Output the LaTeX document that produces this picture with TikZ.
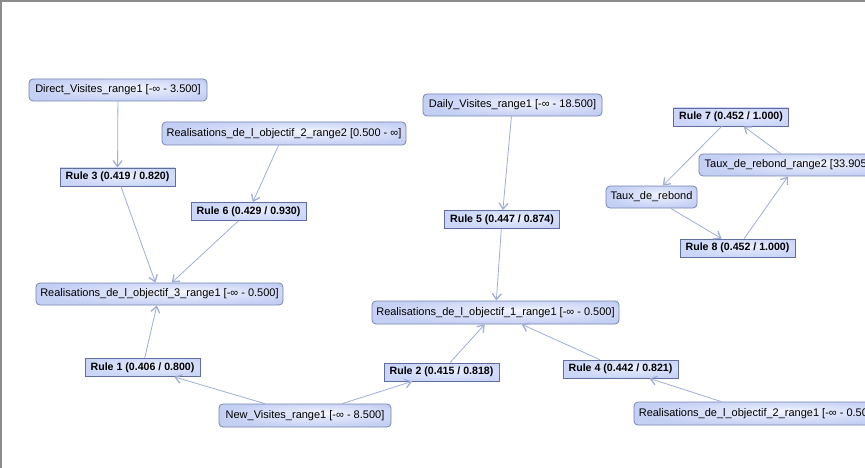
\documentclass[tikz,border=0pt]{standalone}
\usepackage{fontspec}
\setmainfont{Liberation Sans}
\usetikzlibrary{arrows.meta}
\definecolor{attrborder}{RGB}{118,132,178}
\definecolor{ruleborder}{RGB}{96,110,158}
\definecolor{attrlight}{RGB}{246,248,255}
\definecolor{attrdark}{RGB}{196,207,244}
\definecolor{rulelight}{RGB}{236,240,255}
\definecolor{ruledark}{RGB}{202,213,248}
\definecolor{edgecol}{RGB}{160,174,214}
\definecolor{framecol}{RGB}{140,140,140}
\pgfdeclareradialshading{attrglow}{\pgfpoint{6bp}{6bp}}{%
  color(0bp)=(attrlight); color(10bp)=(attrlight!55!attrdark);
  color(28bp)=(attrdark); color(50bp)=(attrdark)}
\pgfdeclareradialshading{ruleglow}{\pgfpoint{6bp}{6bp}}{%
  color(0bp)=(rulelight); color(10bp)=(rulelight!55!ruledark);
  color(28bp)=(ruledark); color(50bp)=(ruledark)}
\tikzset{
  attr/.style={draw=attrborder, line width=0.8pt, rounded corners=4pt,
    shading=attrglow, minimum height=22pt, inner xsep=0pt, inner ysep=0pt,
    text=black, font=\fontsize{11}{13}\selectfont},
  rulebox/.style={draw=ruleborder, line width=0.8pt, shading=ruleglow,
    minimum height=18pt, minimum width=115pt, inner xsep=0pt, inner ysep=0pt,
    text=black, font=\bfseries\fontsize{10.6}{12}\selectfont},
  link/.style={draw=edgecol, line width=0.8pt,
    -{Straight Barb[length=6pt,width=9pt,line width=1.3pt]}}
}
\begin{document}
\begin{tikzpicture}[x=1pt,y=-1pt]
\useasboundingbox (0,0) rectangle (865,468);
\clip (0,0) rectangle (865,468);
\fill[white] (0,0) rectangle (865,468);
\draw[framecol, line width=2pt] (1,468) -- (1,1) -- (865,1);

% attribute nodes
\node[attr, minimum width=178pt] (direct) at (118,90) {Direct\_Visites\_range1 [-∞ - 3.500]};
\node[attr, minimum width=244pt, minimum height=23pt] (r2r2) at (284,133.5) {Realisations\_de\_l\_objectif\_2\_range2 [0.500 - ∞]};
\node[attr, minimum width=247pt] (r3r1) at (159.5,294) {Realisations\_de\_l\_objectif\_3\_range1 [-∞ - 0.500]};
\node[attr, minimum width=172pt, minimum height=23pt] (newv) at (305,415.5) {New\_Visites\_range1 [-∞ - 8.500]};
\node[attr, minimum width=247pt, minimum height=23pt] (r1r1) at (495.5,312.5) {Realisations\_de\_l\_objectif\_1\_range1 [-∞ - 0.500]};
\node[attr, minimum width=248pt, minimum height=23pt] (r2r1) at (758,413.5) {Realisations\_de\_l\_objectif\_2\_range1 [-∞ - 0.500]};
\node[attr, minimum width=179pt] (daily) at (512.5,105) {Daily\_Visites\_range1 [-∞ - 18.500]};
\node[attr, minimum width=194pt] (trr2) at (796,165) {Taux\_de\_rebond\_range2 [33.905 - ∞]};
\node[attr, minimum width=91pt] (taux) at (651.5,197) {Taux\_de\_rebond};

% rule nodes
\node[rulebox] (rule3) at (117.5,177) {Rule 3 (0.419 / 0.820)};
\node[rulebox] (rule6) at (248.5,211.5) {Rule 6 (0.429 / 0.930)};
\node[rulebox] (rule1) at (142.5,367.5) {Rule 1 (0.406 / 0.800)};
\node[rulebox] (rule2) at (441.5,372) {Rule 2 (0.415 / 0.818)};
\node[rulebox] (rule4) at (620.5,369) {Rule 4 (0.442 / 0.821)};
\node[rulebox] (rule5) at (502,219.5) {Rule 5 (0.447 / 0.874)};
\node[rulebox] (rule7) at (731,117) {Rule 7 (0.452 / 1.000)};
\node[rulebox] (rule8) at (737.5,248) {Rule 8 (0.452 / 1.000)};

% connectors
\draw[link] (direct) -- (rule3);
\draw[link] (rule3) -- (r3r1);
\draw[link] (r2r2) -- (rule6);
\draw[link] (rule6) -- (r3r1);
\draw[link] (rule1) -- (r3r1);
\draw[link] (newv) -- (rule1);
\draw[link] (newv) -- (rule2);
\draw[link] (rule2) -- (r1r1);
\draw[link] (daily) -- (rule5);
\draw[link] (rule5) -- (r1r1);
\draw[link] (r2r1) -- (rule4);
\draw[link] (rule4) -- (r1r1);
\draw[link] (rule7) -- (taux);
\draw[link] (taux) -- (rule8);
\draw[link] (rule8) -- (trr2);
\draw[link] (trr2) -- (rule7);
\end{tikzpicture}
\end{document}
